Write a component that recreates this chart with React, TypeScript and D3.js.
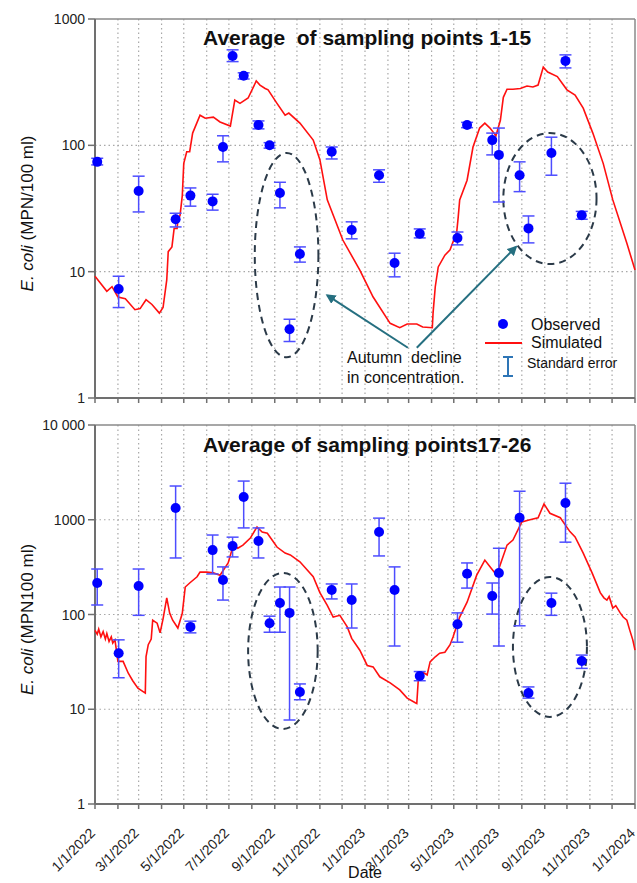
import React from "react";
import * as d3 from "d3";

const W = 637;
const H = 883;
const FONT = "Arial, 'Liberation Sans', sans-serif";

// sampling dates (same for both panels)
const sampleDates = [
  "2022-01-04", "2022-02-02", "2022-03-01", "2022-04-20", "2022-05-10",
  "2022-06-09", "2022-06-23", "2022-07-06", "2022-07-21", "2022-08-10",
  "2022-08-25", "2022-09-08", "2022-09-21", "2022-10-05", "2022-11-17",
  "2022-12-14", "2023-01-20", "2023-02-10", "2023-03-16", "2023-05-06",
  "2023-05-19", "2023-06-22", "2023-07-01", "2023-07-29", "2023-08-10",
  "2023-09-10", "2023-09-29", "2023-10-21",
];

// points 1-15: observed mean and standard error bounds
const topMean = [74, 7.3, 43.5, 26, 40, 36, 97, 510, 355, 145, 100, 42, 3.5, 13.8, 89, 21.4, 58, 11.7, 20, 18.5, 145, 110, 84, 58, 22, 87, 466, 28];
const topLow = [70, 5.2, 29.7, 22.6, 33, 30.7, 74, 460, 335, 135, 95, 32, 2.8, 11.9, 78, 18.2, 51, 9.1, 18.5, 16.3, 138, 84, 35.6, 43, 16.9, 58, 410, 26];
const topHigh = [79, 9.2, 57, 29, 46, 41, 119, 570, 375, 156, 105, 51, 4.2, 15.7, 97, 24.8, 64, 14, 21.8, 20.6, 152, 125, 137, 74, 27.6, 116, 520, 30];

// points 17-26
const botMean = [215, 39, 200, 1330, 74, 478, 231, 527, 1740, 597, 81, 132, 104, 15.2, 181, 142, 742, 181, 22.4, 79, 269, 157, 274, 1050, 14.8, 132, 1500, 32.3];
const botLow = [126, 21.5, 98, 395, 64, 268, 142, 405, 820, 395, 65, 65, 7.7, 12.6, 146, 72, 415, 46.5, 20, 51, 190, 101, 46.5, 76, 13.1, 98, 580, 27];
const botHigh = [302, 54, 302, 2270, 85, 690, 318, 655, 2560, 820, 96, 195, 195, 18.5, 210, 210, 1040, 318, 25, 104, 350, 215, 500, 2000, 17.2, 168, 2430, 37.3];

// simulated, days since 1 Jan 2022
const simTopDay = [0, 16, 23, 31, 41, 54, 61, 69, 77, 87, 92, 97, 99, 104, 107, 111, 112, 115, 118, 120, 124, 128, 132, 142, 149, 160, 169, 183, 189, 196, 207, 218, 223, 230, 234, 246, 257, 262, 277, 295, 304, 314, 335, 358, 376, 399, 412, 422, 435, 443, 456, 457, 460, 464, 473, 480, 489, 491, 493, 503, 511, 520, 527, 534, 542, 548, 552, 557, 565, 575, 584, 592, 599, 606, 612, 625, 638, 649, 660, 673, 687, 700, 719, 730];
const simTopVal = [9.2, 7.0, 7.6, 6.3, 6.1, 5.0, 5.1, 6.0, 5.5, 4.7, 5.2, 8.6, 14.4, 15.7, 22, 22, 25.6, 28, 40, 72, 89, 89, 125, 173, 164, 167, 153, 142, 228, 215, 237, 323, 300, 282, 275, 215, 173, 180, 150, 110, 77, 37, 17.8, 10.3, 6.3, 3.9, 3.6, 3.85, 3.85, 3.65, 3.6, 4.7, 7.6, 10.9, 13.5, 14.9, 20.6, 27, 37, 53, 97, 137, 150, 137, 119, 158, 240, 278, 278, 282, 295, 290, 300, 416, 380, 350, 275, 250, 197, 125, 72, 37, 16.8, 10.3];

const simBotDay = [0, 3, 5, 8, 11, 14, 16, 19, 22, 24, 27, 31, 38, 45, 51, 58, 68, 69, 72, 76, 78, 84, 88, 92, 97, 101, 105, 112, 118, 122, 128, 138, 142, 151, 160, 169, 180, 187, 193, 200, 210, 219, 226, 233, 246, 257, 264, 277, 295, 304, 314, 322, 331, 341, 347, 358, 368, 376, 385, 399, 412, 422, 433, 435, 437, 443, 449, 453, 460, 466, 473, 480, 484, 493, 503, 516, 527, 534, 543, 550, 557, 565, 577, 588, 599, 607, 615, 629, 642, 649, 660, 672, 683, 688, 692, 695, 700, 704, 710, 714, 719, 723, 727, 730];
const simBotVal = [68, 62, 70, 58, 66, 55, 63, 52, 58, 50, 54, 32, 32, 24, 20, 16.7, 14.8, 36, 48, 55, 87, 81, 64, 90, 150, 103, 87, 72, 103, 195, 215, 250, 280, 280, 275, 260, 350, 540, 500, 540, 640, 840, 740, 720, 515, 445, 425, 360, 250, 170, 125, 94, 98, 74, 56, 42, 29, 28, 22, 19, 16, 13.1, 11.7, 11.5, 20.3, 24.7, 23, 31.6, 35.8, 39, 40, 48, 58, 94, 135, 260, 375, 320, 260, 375, 540, 610, 950, 1000, 1050, 1470, 1170, 1050, 750, 660, 445, 275, 170, 150, 142, 155, 117, 124, 104, 94, 87, 68, 54, 42];

const topTicks = [1, 10, 100, 1000];
const botTicks = [1, 10, 100, 1000, 10000];

// dashed ellipses: centre day, half width in days, value at top and bottom
const topEllipses = [
  { day: 259, half: 43, hi: 87, lo: 2.1 },
  { day: 615, half: 63, hi: 125, lo: 11.5 },
];
const botEllipses = [
  { day: 254, half: 47, hi: 274, lo: 6.2 },
  { day: 615, half: 50, hi: 249, lo: 8.3 },
];
const topArrows = [
  { d0: 423, v0: 2.5, d1: 314, v1: 6.5 },
  { d0: 435, v0: 2.5, d1: 569, v1: 15.7 },
];

const parse = d3.timeParse("%Y-%m-%d");
const start = new Date(2022, 0, 1);
const end = new Date(2024, 0, 1);
const dayToDate = (d: number) => d3.timeDay.offset(start, d);

const x = d3.scaleTime().domain([start, end]).range([95, 635]);
const months = d3.timeMonth.range(start, d3.timeDay.offset(end, 1));
const labelMonths = d3.timeMonth.every(2)!.range(start, d3.timeDay.offset(end, 1));
const fmtDate = (d: Date) => `${d.getMonth() + 1}/${d.getDate()}/${d.getFullYear()}`;

const tickLabel = (v: number) => (v === 10000 ? "10 000" : String(v));

type Ell = { day: number; half: number; hi: number; lo: number };

function Panel(props: {
  y0: number;
  y1: number;
  max: number;
  ticks: number[];
  title: string;
  titleY: number;
  ylabel: string;
  mean: number[];
  low: number[];
  high: number[];
  simDay: number[];
  simVal: number[];
  ellipses: Ell[];
  xLabels: boolean;
  children?: React.ReactNode;
}) {
  const { y0, y1, max, ticks, mean, low, high, simDay, simVal } = props;
  const y = d3.scaleLog().domain([1, max]).range([y1, y0]);
  const dates = sampleDates.map((s) => parse(s)!);
  const line = d3
    .line<number>()
    .x((_, i) => x(dayToDate(simDay[i])))
    .y((_, i) => y(simVal[i]));
  const left = x.range()[0];
  const right = x.range()[1];
  const midY = (y0 + y1) / 2;

  return (
    <g>
      {/* grid */}
      {months.slice(1, -1).map((m, i) => (
        <line key={"vg" + i} x1={x(m)} x2={x(m)} y1={y0} y2={y1} stroke="#a8a8a8" strokeWidth={1.2} strokeDasharray="1.5,3" />
      ))}
      {ticks.slice(1, -1).map((t) => (
        <line key={"hg" + t} x1={left} x2={right} y1={y(t)} y2={y(t)} stroke="#a8a8a8" strokeWidth={1.2} strokeDasharray="1.5,3" />
      ))}
      {/* frame */}
      <line x1={left} x2={right} y1={y0} y2={y0} stroke="#8a8a8a" strokeWidth={1.5} />
      <line x1={right} x2={right} y1={y0} y2={y1} stroke="#8a8a8a" strokeWidth={1.5} />
      <line x1={left} x2={left} y1={y0} y2={y1} stroke="#707070" strokeWidth={2} />
      <line x1={left} x2={right} y1={y1} y2={y1} stroke="#707070" strokeWidth={2} />
      {ticks.map((t) => (
        <g key={"yt" + t}>
          <line x1={left - 7} x2={left} y1={y(t)} y2={y(t)} stroke="#707070" strokeWidth={1.5} />
          <text x={left - 10} y={y(t)} dy="0.36em" textAnchor="end" fontSize={14} fill="#222" fontFamily={FONT}>
            {tickLabel(t)}
          </text>
        </g>
      ))}
      {months.map((m, i) => (
        <line key={"xt" + i} x1={x(m)} x2={x(m)} y1={y1} y2={y1 + 5} stroke="#707070" strokeWidth={1.5} />
      ))}
      {props.xLabels &&
        labelMonths.map((m, i) => (
          <text key={"xl" + i} transform={`translate(${x(m) + 1},${y1 + 30}) rotate(-45)`} textAnchor="end" fontSize={14} fill="#222" fontFamily={FONT}>
            {fmtDate(m)}
          </text>
        ))}
      {/* y label */}
      <text transform={`translate(33,${midY + 5}) rotate(-90)`} textAnchor="middle" fontSize={17} fill="#111" fontFamily={FONT}>
        <tspan fontStyle="italic">E. coli</tspan>
        <tspan>{" " + props.ylabel}</tspan>
      </text>
      <text x={203} y={props.titleY} fontSize={21} fontWeight="bold" fill="#111" fontFamily={FONT} style={{ whiteSpace: "pre" }}>
        {props.title}
      </text>
      {/* ellipses */}
      {props.ellipses.map((e, i) => {
        const cx = x(dayToDate(e.day));
        const rx = x(dayToDate(e.day + e.half)) - cx;
        const t = y(e.hi);
        const b = y(e.lo);
        return (
          <ellipse key={"el" + i} cx={cx} cy={(t + b) / 2} rx={rx} ry={(b - t) / 2} fill="none" stroke="#2b3a48" strokeWidth={2} strokeDasharray="7,5" />
        );
      })}
      {/* simulated */}
      <path d={line(simVal) || ""} fill="none" stroke="#ff1010" strokeWidth={1.6} />
      {/* error bars */}
      {dates.map((d, i) => {
        const cx = x(d);
        return (
          <g key={"eb" + i} stroke="#4d4dff" strokeWidth={1.5}>
            <line x1={cx} x2={cx} y1={y(high[i])} y2={y(low[i])} />
            <line x1={cx - 6} x2={cx + 6} y1={y(high[i])} y2={y(high[i])} />
            <line x1={cx - 6} x2={cx + 6} y1={y(low[i])} y2={y(low[i])} />
          </g>
        );
      })}
      {dates.map((d, i) => (
        <circle key={"pt" + i} cx={x(d)} cy={y(mean[i])} r={5} fill="#0000ff" />
      ))}
      {props.children}
    </g>
  );
}

export default function App() {
  const yTop = d3.scaleLog().domain([1, 1000]).range([398, 19]);
  const arrowColor = "#256f80";
  return (
    <svg width={W} height={H} style={{ position: "absolute", left: 0, top: 0, background: "#fff" }} fontFamily={FONT}>
      <defs>
        <marker id="arr" viewBox="0 0 10 10" refX="8" refY="5" markerWidth="5" markerHeight="5" orient="auto-start-reverse">
          <path d="M0,0 L10,5 L0,10 z" fill={arrowColor} />
        </marker>
      </defs>
      <Panel
        y0={19}
        y1={398}
        max={1000}
        ticks={topTicks}
        title={"Average  of sampling points 1-15"}
        titleY={45}
        ylabel="(MPN/100 ml)"
        mean={topMean}
        low={topLow}
        high={topHigh}
        simDay={simTopDay}
        simVal={simTopVal}
        ellipses={topEllipses}
        xLabels={false}
      >
        {topArrows.map((a, i) => (
          <line
            key={"ar" + i}
            x1={x(dayToDate(a.d0))}
            y1={yTop(a.v0)}
            x2={x(dayToDate(a.d1))}
            y2={yTop(a.v1)}
            stroke={arrowColor}
            strokeWidth={2}
            markerEnd="url(#arr)"
          />
        ))}
        <text x={347} y={363} fontSize={16} fill="#111" style={{ whiteSpace: "pre" }}>
          {"Autumn  decline"}
        </text>
        <text x={347} y={383} fontSize={16} fill="#111">
          in concentration.
        </text>
        {/* legend */}
        <circle cx={503} cy={324} r={5} fill="#0000ff" />
        <text x={531} y={330} fontSize={16} fill="#111">Observed</text>
        <line x1={485} x2={522} y1={343} y2={343} stroke="#ff1010" strokeWidth={2} />
        <text x={531} y={348} fontSize={16} fill="#111">Simulated</text>
        <g stroke="#2e75b6" strokeWidth={2}>
          <line x1={508} x2={508} y1={357} y2={376} />
          <line x1={503} x2={513} y1={357} y2={357} />
          <line x1={503} x2={513} y1={376} y2={376} />
        </g>
        <text x={527} y={368} fontSize={14} fill="#111">Standard error</text>
      </Panel>
      <Panel
        y0={425}
        y1={804}
        max={10000}
        ticks={botTicks}
        title={"Average of sampling points17-26"}
        titleY={452}
        ylabel="(MPN100 ml)"
        mean={botMean}
        low={botLow}
        high={botHigh}
        simDay={simBotDay}
        simVal={simBotVal}
        ellipses={botEllipses}
        xLabels={true}
      />
      <text x={365} y={878} textAnchor="middle" fontSize={16} fill="#111">Date</text>
    </svg>
  );
}
